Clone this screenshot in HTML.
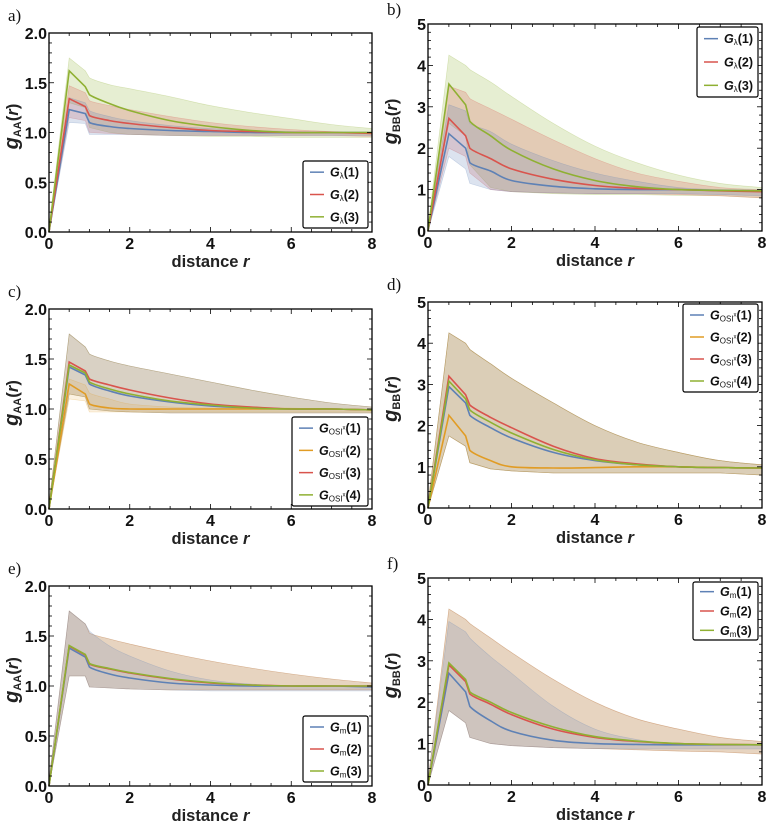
<!DOCTYPE html>
<html><head><meta charset="utf-8">
<style>
html,body{margin:0;padding:0;background:#fff;}
svg{display:block;font-family:"Liberation Sans",sans-serif;}
.pl{font-family:"Liberation Serif",serif;font-size:17px;fill:#111;}
.tk{font-size:16px;font-weight:bold;fill:#111;}
.xl{font-size:16.5px;font-weight:bold;fill:#222;}
.lg{font-size:12.5px;font-weight:bold;fill:#111;}
</style></head>
<body>
<svg id="fig" width="774" height="823" viewBox="0 0 774 823" xmlns="http://www.w3.org/2000/svg"></svg>
<script>
// shared x sample positions (distance r)
const rVals = [0, 0.5, 0.9, 1.0, 1.5, 2, 3, 4, 5, 6, 7, 8];
const xTicks = [0, 2, 4, 6, 8];
const yTicksAA = [0, 0.5, 1.0, 1.5, 2.0];
const yTickLabelsAA = ["0.0", "0.5", "1.0", "1.5", "2.0"];
const yTicksBB = [0, 1, 2, 3, 4, 5];
const yTickLabelsBB = ["0", "1", "2", "3", "4", "5"];

// panel a
const a1Mean = [0, 1.23, 1.19, 1.10, 1.06, 1.04, 1.02, 1.01, 1.0, 1.0, 1.0, 1.0];
const a1Up   = [0.05, 1.35, 1.30, 1.22, 1.16, 1.12, 1.07, 1.04, 1.02, 1.01, 1.0, 1.0];
const a1Lo   = [0, 1.10, 1.09, 0.98, 0.98, 0.98, 0.97, 0.97, 0.97, 0.97, 0.97, 0.97];
const a2Mean = [0, 1.34, 1.26, 1.17, 1.12, 1.09, 1.05, 1.02, 1.01, 1.0, 1.0, 0.99];
const a2Up   = [0.05, 1.47, 1.40, 1.32, 1.27, 1.23, 1.16, 1.10, 1.06, 1.03, 1.01, 1.0];
const a2Lo   = [0, 1.15, 1.12, 1.0, 0.99, 0.98, 0.97, 0.97, 0.97, 0.97, 0.97, 0.96];
const a3Mean = [0, 1.62, 1.46, 1.38, 1.29, 1.22, 1.12, 1.06, 1.02, 1.0, 1.0, 1.0];
const a3Up   = [0.05, 1.75, 1.62, 1.55, 1.48, 1.44, 1.36, 1.27, 1.20, 1.14, 1.08, 1.04];
const a3Lo   = [0, 1.30, 1.25, 1.05, 1.0, 0.98, 0.97, 0.96, 0.96, 0.95, 0.95, 0.95];
// panel b
const b1Mean = [0, 2.35, 2.0, 1.65, 1.45, 1.22, 1.08, 1.02, 1.0, 1.0, 0.98, 0.97];
const b1Up   = [0.1, 3.05, 2.9, 2.6, 2.4, 2.1, 1.7, 1.4, 1.2, 1.05, 1.0, 0.98];
const b1Lo   = [0, 1.8, 1.5, 1.15, 1.0, 0.95, 0.92, 0.9, 0.9, 0.9, 0.88, 0.85];
const b2Mean = [0, 2.72, 2.3, 2.0, 1.75, 1.5, 1.25, 1.1, 1.03, 1.0, 0.97, 0.95];
const b2Up   = [0.1, 3.5, 3.35, 3.2, 2.95, 2.7, 2.2, 1.75, 1.4, 1.2, 1.05, 1.0];
const b2Lo   = [0, 2.0, 1.8, 1.4, 1.0, 0.95, 0.92, 0.9, 0.9, 0.88, 0.85, 0.8];
const b3Mean = [0, 3.55, 3.05, 2.65, 2.3, 1.95, 1.5, 1.22, 1.07, 1.0, 0.98, 0.97];
const b3Up   = [0.1, 4.25, 4.0, 3.9, 3.6, 3.25, 2.6, 2.05, 1.65, 1.35, 1.15, 1.05];
const b3Lo   = [0, 2.6, 2.3, 1.6, 1.05, 0.95, 0.9, 0.88, 0.88, 0.86, 0.85, 0.8];
// panel c
const c1Mean = [0, 1.42, 1.34, 1.25, 1.18, 1.13, 1.07, 1.03, 1.01, 1.0, 1.0, 0.99];
const c2Mean = [0, 1.25, 1.15, 1.05, 1.01, 1.0, 1.0, 1.0, 1.0, 1.0, 1.0, 0.99];
const c3Mean = [0, 1.47, 1.38, 1.30, 1.24, 1.19, 1.11, 1.05, 1.02, 1.0, 1.0, 0.99];
const c4Mean = [0, 1.44, 1.36, 1.27, 1.20, 1.15, 1.08, 1.04, 1.01, 1.0, 1.0, 0.99];
const cWideUp = [0.05, 1.75, 1.62, 1.55, 1.48, 1.43, 1.35, 1.27, 1.19, 1.12, 1.06, 1.02];
const cWideLo = [0, 1.15, 1.12, 1.0, 0.98, 0.97, 0.96, 0.96, 0.96, 0.96, 0.96, 0.96];
const c2Up = [0.05, 1.30, 1.24, 1.16, 1.10, 1.05, 1.02, 1.01, 1.01, 1.01, 1.0, 1.0];
const c2Lo = [0, 1.10, 1.08, 0.97, 0.97, 0.97, 0.97, 0.97, 0.97, 0.97, 0.97, 0.97];
// panel d
const d1Mean = [0, 2.95, 2.55, 2.25, 1.95, 1.7, 1.35, 1.15, 1.05, 1.0, 0.98, 0.97];
const d2Mean = [0, 2.25, 1.75, 1.4, 1.15, 1.0, 0.97, 0.98, 1.0, 1.0, 0.98, 0.97];
const d3Mean = [0, 3.2, 2.75, 2.5, 2.2, 1.95, 1.5, 1.2, 1.07, 1.0, 0.98, 0.97];
const d4Mean = [0, 3.08, 2.65, 2.38, 2.08, 1.82, 1.42, 1.17, 1.05, 1.0, 0.98, 0.97];
const dWideUp = [0.1, 4.25, 4.0, 3.85, 3.5, 3.15, 2.55, 2.0, 1.6, 1.35, 1.15, 1.05];
const dWideLo = [0, 1.75, 1.5, 1.1, 0.95, 0.9, 0.85, 0.85, 0.85, 0.85, 0.85, 0.8];
// panel e
const e1Mean = [0, 1.38, 1.29, 1.19, 1.12, 1.08, 1.03, 1.01, 1.0, 1.0, 1.0, 0.99];
const e2Mean = [0, 1.40, 1.31, 1.22, 1.17, 1.13, 1.07, 1.03, 1.01, 1.0, 1.0, 1.0];
const e3Mean = [0, 1.405, 1.315, 1.225, 1.175, 1.135, 1.075, 1.035, 1.01, 1.0, 1.0, 1.0];
const e1Up = [0.05, 1.75, 1.62, 1.55, 1.40, 1.30, 1.15, 1.06, 1.02, 1.0, 1.0, 1.0];
const e1Lo = [0, 1.10, 1.10, 0.99, 0.98, 0.97, 0.96, 0.95, 0.95, 0.95, 0.95, 0.95];
const e2Up = [0.05, 1.75, 1.62, 1.53, 1.47, 1.42, 1.33, 1.25, 1.18, 1.12, 1.07, 1.03];
const e2Lo = [0, 1.10, 1.10, 0.99, 0.98, 0.97, 0.96, 0.96, 0.96, 0.96, 0.96, 0.96];
// panel f
const f1Mean = [0, 2.7, 2.25, 1.9, 1.55, 1.3, 1.08, 1.0, 0.98, 0.97, 0.97, 0.97];
const f2Mean = [0, 2.9, 2.5, 2.2, 1.95, 1.7, 1.35, 1.15, 1.05, 1.0, 0.98, 0.97];
const f3Mean = [0, 2.95, 2.55, 2.25, 2.0, 1.75, 1.4, 1.17, 1.06, 1.0, 0.98, 0.97];
const f1Up = [0.1, 3.95, 3.7, 3.55, 3.1, 2.7, 1.9, 1.35, 1.1, 1.0, 0.98, 0.98];
const f1Lo = [0, 1.8, 1.5, 1.15, 1.0, 0.95, 0.9, 0.88, 0.87, 0.87, 0.87, 0.87];
const f2Up = [0.1, 4.25, 4.0, 3.9, 3.55, 3.2, 2.55, 2.0, 1.6, 1.35, 1.15, 1.05];
const f2Lo = [0, 1.8, 1.5, 1.15, 1.0, 0.95, 0.9, 0.88, 0.85, 0.82, 0.8, 0.75];

const BLUE = "#5e81b5", ORANGE = "#e19c24", RED = "#d9544d", GREEN = "#8fb032";
const NS = "http://www.w3.org/2000/svg";
const svg = document.getElementById("fig");

function mk(tag, attrs, parent) {
  const e = document.createElementNS(NS, tag);
  for (const k in attrs) e.setAttribute(k, attrs[k]);
  (parent || svg).appendChild(e);
  return e;
}

// build a path through points; straight for early segments, Catmull-Rom smooth for the tail (index >= 3)
function pathThrough(pts, start) {
  let d = (start ? "M" : "L") + pts[0][0].toFixed(1) + "," + pts[0][1].toFixed(1);
  for (let i = 1; i < pts.length; i++) {
    const a = pts[i - 1], b = pts[i];
    if (i >= 4 && i <= pts.length - 1 && pts[i - 2] && pts.length > 1) {
      const p0 = pts[i - 2], p3 = pts[i + 1] || b;
      const c1 = [a[0] + (b[0] - p0[0]) / 6, a[1] + (b[1] - p0[1]) / 6];
      const c2 = [b[0] - (p3[0] - a[0]) / 6, b[1] - (p3[1] - a[1]) / 6];
      d += "C" + c1[0].toFixed(1) + "," + c1[1].toFixed(1) + " " + c2[0].toFixed(1) + "," + c2[1].toFixed(1) + " " + b[0].toFixed(1) + "," + b[1].toFixed(1);
    } else {
      d += "L" + b[0].toFixed(1) + "," + b[1].toFixed(1);
    }
  }
  return d;
}

function panel(p) {
  const g = mk("g", {});
  
  
  const X = v => p.x0 + (p.x1 - p.x0) * v / 8;
  const Y = v => p.y1 - (p.y1 - p.y0) * v / p.ymax;
  const op = p.op || 0.22;
  // bands
  p.bands.forEach((b, i) => {
    const upPts = rVals.map((r, k) => [X(r), Y(b.up[k])]);
    const loPts = rVals.map((r, k) => [X(r), Y(b.lo[k])]);
    let d = pathThrough(upPts, true);
    d += "L" + loPts[loPts.length - 1][0].toFixed(1) + "," + loPts[loPts.length - 1][1].toFixed(1);
    for (let k = loPts.length - 2; k >= 0; k--) d += "L" + loPts[k][0].toFixed(1) + "," + loPts[k][1].toFixed(1);
    const el = mk("path", { d: d + "Z", fill: b.color, "fill-opacity": op, stroke: b.color, "stroke-opacity": 0.3, "stroke-width": 0.6 }, g);
    
    
  });
  // mean lines
  p.lines.forEach((l, i) => {
    const pts = rVals.map((r, k) => [X(r), Y(l.v[k])]);
    const el = mk("path", { d: pathThrough(pts, true), fill: "none", stroke: l.color, "stroke-width": 1.6 }, g);
    
    
  });
  // frame
  const fr = mk("rect", { x: p.x0, y: p.y0, width: p.x1 - p.x0, height: p.y1 - p.y0, fill: "none", stroke: "#000", "stroke-width": 1.3 }, g);
  
  
  // x ticks
  for (let v = 0; v <= 8.001; v += 0.5) {
    const maj = Math.abs(v - Math.round(v / 2) * 2) < 1e-6;
    const L = maj ? 5 : 3;
    mk("line", { x1: X(v), x2: X(v), y1: p.y1, y2: p.y1 - L, stroke: "#000", "stroke-width": 0.8 }, g);
    mk("line", { x1: X(v), x2: X(v), y1: p.y0, y2: p.y0 + L, stroke: "#000", "stroke-width": 0.8 }, g);
  }
  xTicks.forEach(v => {
    const t = mk("text", { x: X(v), y: p.y1 + 17, "text-anchor": "middle", class: "tk" }, g);
    t.textContent = v;
    
    
  });
  // y ticks
  const minor = p.ymax === 2 ? 0.1 : 0.2, majStep = p.ymax === 2 ? 0.5 : 1;
  for (let v = 0; v <= p.ymax + 1e-6; v += minor) {
    const maj = Math.abs(v / majStep - Math.round(v / majStep)) < 1e-6;
    const L = maj ? 5 : 3;
    mk("line", { x1: p.x0, x2: p.x0 + L, y1: Y(v), y2: Y(v), stroke: "#000", "stroke-width": 0.8 }, g);
    mk("line", { x1: p.x1, x2: p.x1 - L, y1: Y(v), y2: Y(v), stroke: "#000", "stroke-width": 0.8 }, g);
  }
  p.yt.forEach((v, i) => {
    const t = mk("text", { x: p.x0 - 2, y: Y(v) + 6, "text-anchor": "end", class: "tk" }, g);
    t.textContent = p.ytl[i];
    
    
  });
  // axis labels
  const xl = mk("text", { x: (p.x0 + p.x1) / 2, y: p.y1 + 35, "text-anchor": "middle", class: "xl" }, g);
  xl.innerHTML = 'distance <tspan font-style="italic">r</tspan>';
  
  
  const cy = (p.y0 + p.y1) / 2 - 6, cx = p.x0 - 31;
  const yl = mk("text", { x: cx, y: cy, "text-anchor": "middle", transform: "rotate(-90 " + cx + " " + cy + ")", class: "xl", "font-size": 17 }, g);
  yl.innerHTML = '<tspan font-style="italic" font-size="20">g</tspan><tspan font-size="11" dy="3">' + p.sub + '</tspan><tspan dy="-3" font-size="17">(</tspan><tspan font-style="italic">r</tspan><tspan>)</tspan>';
  
  
  // panel label
  const pl = mk("text", { x: p.x0 - 41, y: p.y0 - 12 + (p.lblDy || 0), class: "pl" }, g);
  pl.textContent = p.id + ")";
  
  
  // legend
  const lg = mk("g", {}, g);
  
  
  const L = p.leg;
  mk("rect", { x: L.x, y: L.y, width: L.w, height: L.h, rx: 2, fill: "#fff", stroke: "#000", "stroke-width": 1.2 }, lg);
  const n = p.lines.length, step = L.h / n;
  p.lines.forEach((l, i) => {
    const yy = L.y + step * (i + 0.5);
    const e = mk("g", {}, lg);
    
    
    mk("line", { x1: L.x + 7, x2: L.x + 21, y1: yy, y2: yy, stroke: l.color, "stroke-width": 1.5 }, e);
    const t = mk("text", { x: L.x + 27, y: yy + 4.5, class: "lg" }, e);
    t.innerHTML = '<tspan font-style="italic">G</tspan><tspan font-size="8" font-weight="normal" dy="2">' + p.gsub + '</tspan>' +
      (p.gsup ? '<tspan font-size="6" font-weight="normal" dy="-5">' + p.gsup + '</tspan><tspan dy="3">(' : '<tspan dy="-2">(') + (i + 1) + ')</tspan>';
  });
}

panel({ id: "a", x0: 49, x1: 372, y0: 33, y1: 232, ymax: 2, yt: yTicksAA, ytl: yTickLabelsAA, sub: "AA", gsub: "λ",
  leg: { x: 303, y: 161, w: 65, h: 67 },
  bands: [{ up: a3Up, lo: a3Lo, color: GREEN }, { up: a2Up, lo: a2Lo, color: RED }, { up: a1Up, lo: a1Lo, color: BLUE }],
  lines: [{ v: a1Mean, color: BLUE }, { v: a2Mean, color: RED }, { v: a3Mean, color: GREEN }] });
panel({ id: "b", x0: 428, x1: 762, y0: 24, y1: 231, ymax: 5, yt: yTicksBB, ytl: yTickLabelsBB, sub: "BB", gsub: "λ", lblDy: 3,
  leg: { x: 697, y: 27, w: 61, h: 70 },
  bands: [{ up: b3Up, lo: b3Lo, color: GREEN }, { up: b2Up, lo: b2Lo, color: RED }, { up: b1Up, lo: b1Lo, color: BLUE }],
  lines: [{ v: b1Mean, color: BLUE }, { v: b2Mean, color: RED }, { v: b3Mean, color: GREEN }] });
panel({ id: "c", x0: 49, x1: 372, y0: 309, y1: 509, ymax: 2, yt: yTicksAA, ytl: yTickLabelsAA, sub: "AA", gsub: "OSI", gsup: "x", op: 0.14,
  leg: { x: 292, y: 417, w: 76, h: 89 },
  bands: [{ up: cWideUp, lo: cWideLo, color: BLUE }, { up: cWideUp, lo: cWideLo, color: RED }, { up: cWideUp, lo: cWideLo, color: GREEN }, { up: c2Up, lo: c2Lo, color: ORANGE }],
  lines: [{ v: c1Mean, color: BLUE }, { v: c2Mean, color: ORANGE }, { v: c3Mean, color: RED }, { v: c4Mean, color: GREEN }] });
panel({ id: "d", x0: 428, x1: 762, y0: 302, y1: 508, ymax: 5, yt: yTicksBB, ytl: yTickLabelsBB, sub: "BB", gsub: "OSI", gsup: "x", op: 0.12,
  leg: { x: 683, y: 304, w: 75, h: 88 },
  bands: [{ up: dWideUp, lo: dWideLo, color: BLUE }, { up: dWideUp, lo: dWideLo, color: ORANGE }, { up: dWideUp, lo: dWideLo, color: RED }, { up: dWideUp, lo: dWideLo, color: GREEN }],
  lines: [{ v: d1Mean, color: BLUE }, { v: d2Mean, color: ORANGE }, { v: d3Mean, color: RED }, { v: d4Mean, color: GREEN }] });
panel({ id: "e", x0: 49, x1: 372, y0: 586, y1: 786, ymax: 2, yt: yTicksAA, ytl: yTickLabelsAA, sub: "AA", gsub: "m", op: 0.18,
  leg: { x: 303, y: 716, w: 65, h: 66 },
  bands: [{ up: e2Up, lo: e2Lo, color: GREEN }, { up: e2Up, lo: e2Lo, color: RED }, { up: e1Up, lo: e1Lo, color: BLUE }],
  lines: [{ v: e1Mean, color: BLUE }, { v: e2Mean, color: RED }, { v: e3Mean, color: GREEN }] });
panel({ id: "f", x0: 428, x1: 762, y0: 578, y1: 785, ymax: 5, yt: yTicksBB, ytl: yTickLabelsBB, sub: "BB", gsub: "m", lblDy: 3, op: 0.18,
  leg: { x: 693, y: 582, w: 65, h: 58 },
  bands: [{ up: f2Up, lo: f2Lo, color: GREEN }, { up: f2Up, lo: f2Lo, color: RED }, { up: f1Up, lo: f1Lo, color: BLUE }],
  lines: [{ v: f1Mean, color: BLUE }, { v: f2Mean, color: RED }, { v: f3Mean, color: GREEN }] });
</script>
</body></html>
